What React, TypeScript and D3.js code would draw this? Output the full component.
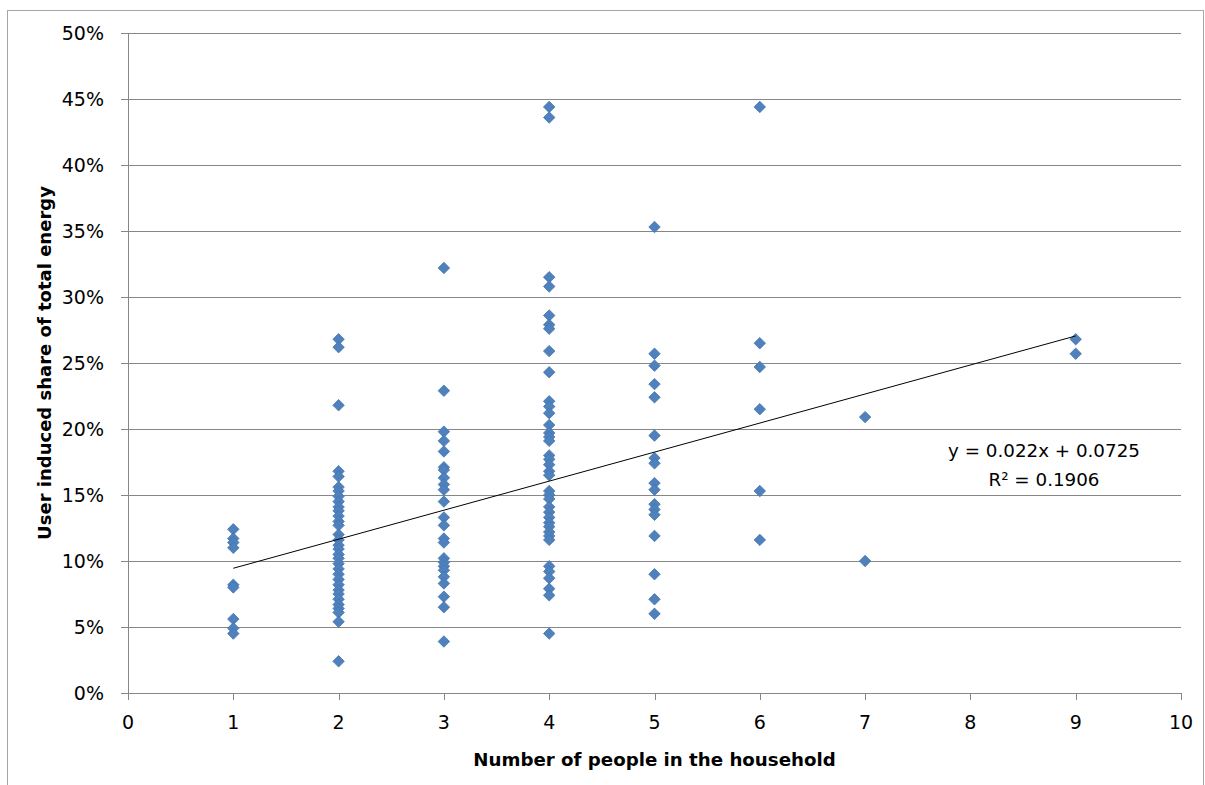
import React from 'react'
import * as d3 from 'd3'

// household size -> observed user induced share (%)
const householdSizes = [1, 2, 3, 4, 5, 6, 7, 9]
const shares1 = [12.4, 11.7, 11.4, 11.0, 8.2, 8.0, 5.6, 4.9, 4.5]
const shares2 = [26.8, 26.2, 21.8, 16.8, 16.4, 15.6, 15.3, 14.9, 14.5, 14.1, 13.8, 13.4, 13.0, 12.7, 12.0, 11.6, 11.2, 10.9, 10.5, 10.2, 9.8, 9.4, 9.0, 8.6, 8.2, 7.8, 7.5, 7.1, 6.7, 6.4, 6.1, 5.4, 2.4]
const shares3 = [32.2, 22.9, 19.8, 19.1, 18.3, 17.1, 16.9, 16.3, 15.8, 15.4, 14.5, 13.3, 12.7, 11.7, 11.4, 10.2, 9.9, 9.6, 9.3, 8.8, 8.3, 7.3, 6.5, 3.9]
const shares4 = [44.4, 43.6, 31.5, 30.8, 28.6, 27.9, 27.6, 25.9, 24.3, 22.1, 21.7, 21.2, 20.3, 19.7, 19.4, 19.1, 18.0, 17.7, 17.3, 16.8, 16.5, 15.3, 15.0, 14.7, 14.1, 13.7, 13.3, 12.9, 12.6, 12.2, 11.9, 11.6, 9.6, 9.2, 8.7, 7.9, 7.4, 4.5]
const shares5 = [35.3, 25.7, 24.8, 23.4, 22.4, 19.5, 17.8, 17.4, 15.9, 15.4, 14.3, 13.9, 13.5, 11.9, 9.0, 7.1, 6.0]
const shares6 = [44.4, 26.5, 24.7, 21.5, 15.3, 11.6]
const shares7 = [20.9, 10.0]
const shares9 = [26.8, 25.7]
const sharesBySize = [shares1, shares2, shares3, shares4, shares5, shares6, shares7, shares9]

const xTicks = [0, 1, 2, 3, 4, 5, 6, 7, 8, 9, 10]
const yTicks = [0, 5, 10, 15, 20, 25, 30, 35, 40, 45, 50]

// linear trend shown in the chart
const slope = 0.022
const intercept = 0.0725
const trendFrom = 1
const trendTo = 9
const equationLines = ['y = 0.022x + 0.0725', 'R² = 0.1906']

const W = 1205
const H = 785
const plot = {left: 128, right: 1181, top: 33, bottom: 693}
const font = '"DejaVu Sans", Verdana, sans-serif'
const gridColor = '#878787'

export default function App() {
    const x = d3.scaleLinear().domain([0, 10]).range([plot.left, plot.right])
    const y = d3.scaleLinear().domain([0, 50]).range([plot.bottom, plot.top])

    const points = householdSizes.flatMap((n, i) => sharesBySize[i].map(v => ({n, v})))
    const diamond = d3.symbol().type(d3.symbolDiamond2).size(84)()

    const trend = d3.line<number>()
        .x(d => x(d))
        .y(d => y((slope * d + intercept) * 100))([trendFrom, trendTo])

    return (
        <svg width={W} height={H} style={{position: 'absolute', left: 0, top: 0, background: '#fff'}} fontFamily={font}>
            <rect x={7.5} y={10.5} width={W - 9} height={H} fill='none' stroke='#a6a6a6' />

            {/* horizontal gridlines */}
            {yTicks.map(t => (
                <line key={'g' + t} x1={plot.left - 7} x2={plot.right} y1={Math.round(y(t)) + 0.5} y2={Math.round(y(t)) + 0.5} stroke={gridColor} />
            ))}
            {yTicks.map(t => (
                <text key={'yl' + t} x={plot.left - 24} y={y(t)} dy='0.36em' textAnchor='end' fontSize={19} fill='#000'>{t}%</text>
            ))}
            <line x1={plot.left + 0.5} x2={plot.left + 0.5} y1={plot.top} y2={plot.bottom} stroke={gridColor} />

            {/* x axis ticks */}
            {xTicks.map(t => (
                <line key={'xt' + t} x1={Math.round(x(t)) + 0.5} x2={Math.round(x(t)) + 0.5} y1={plot.bottom} y2={plot.bottom + 7} stroke={gridColor} />
            ))}
            {xTicks.map(t => (
                <text key={'xl' + t} x={x(t)} y={plot.bottom + 36} textAnchor='middle' fontSize={19} fill='#000'>{t}</text>
            ))}

            {points.map((p, i) => (
                <path key={'p' + i} d={diamond!} transform={`translate(${x(p.n)},${y(p.v)})`} fill='#4f81bd' stroke='#4475b0' strokeWidth={0.8} />
            ))}

            <path d={trend!} fill='none' stroke='#000' strokeWidth={1} />

            {equationLines.map((s, i) => (
                <text key={'eq' + i} x={1044} y={457 + i * 29} textAnchor='middle' fontSize={18.3} fill='#000'>{s}</text>
            ))}

            <text x={(plot.left + plot.right) / 2} y={766} textAnchor='middle' fontSize={18.2} fontWeight='bold' fill='#000'>Number of people in the household</text>
            <text transform={`translate(51,${(plot.top + plot.bottom) / 2}) rotate(-90)`} textAnchor='middle' fontSize={18} fontWeight='bold' fill='#000'>User induced share of total energy</text>
        </svg>
    )
}
